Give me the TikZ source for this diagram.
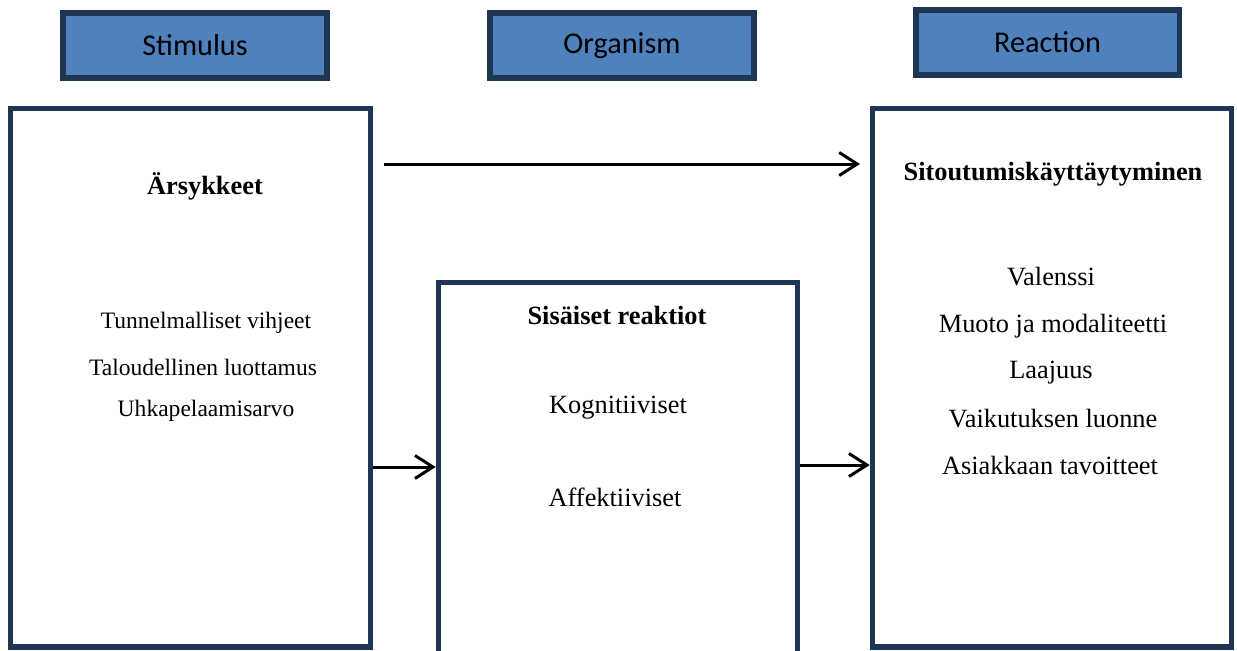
\documentclass[tikz,border=0pt]{standalone}
\usepackage{fontspec}
\setmainfont{Liberation Serif}
\newfontfamily\headfont{Carlito}
\usepackage{tikz}
\usetikzlibrary{arrows.meta,positioning}
\usepackage{xcolor}
\definecolor{headfill}{RGB}{79,129,189}
\definecolor{navy}{RGB}{31,53,84}

\begin{document}
\begin{tikzpicture}[x=0.02cm, y=-0.02cm,
    headbox/.style={draw=navy, line width=3.4pt, fill=headfill, inner sep=0pt,
        minimum width=5.28cm, minimum height=1.3cm,
        font=\headfont\fontsize{17.2}{20}\selectfont},
    bigbox/.style={draw=navy, line width=2.9pt, inner sep=0pt, minimum width=7.19cm},
    title/.style={font=\bfseries\fontsize{15}{18}\selectfont},
    smallitem/.style={font=\fontsize{13.4}{16}\selectfont},
    item/.style={font=\fontsize{15}{18}\selectfont},
    arr/.style={line width=1.7pt, -{Straight Barb[length=3.6mm, width=4.6mm]}}]
    \useasboundingbox (0,0) rectangle (1237,650);

    % Stimulus
    \node[headbox] (stim) at (195,45.5) {Stimulus};
    \node[bigbox, minimum height=10.77cm] (lbox) at (190.5,377.75) {};
    \node[title] (arsyk) at (205,186) {Ärsykkeet};
    \node[smallitem] (tunn) at (206,323) {Tunnelmalliset vihjeet};
    \node[smallitem] (talo) at (203,367) {Taloudellinen luottamus};
    \node[smallitem] (uhka) at (206,411) {Uhkapelaamisarvo};

    % Organism
    \node[headbox] (org) at (622,45.5) {Organism};
    \node[bigbox, minimum height=7.8cm] (mbox) at (618,477) {};
    \node[title] (sisa) at (617,315) {Sisäiset reaktiot};
    \node[item] (kogn) at (618,408) {Kognitiiviset};
    \node[item] (affe) at (615,497) {Affektiiviset};

    % Reaction
    \node[headbox] (reac) at (1047.5,42.5) {Reaction};
    \node[bigbox, minimum height=10.77cm] (rbox) at (1052,377.75) {};
    \node[title] (sito) at (1053,174) {Sitoutumiskäyttäytyminen};
    \node[item] (vale) at (1051,277) {Valenssi};
    \node[item] (muot) at (1053,326) {Muoto ja modaliteetti};
    \node[item] (laaj) at (1051,373) {Laajuus};
    \node[item] (vaik) at (1053,419) {Vaikutuksen luonne};
    \node[item] (asia) at (1050,465) {Asiakkaan tavoitteet};

    % arrows
    \coordinate (topstart) at (384,164);
    \coordinate (topend) at (860,164);
    \draw[arr] (topstart) -- (topend);
    \draw[arr] (lbox.east |- 0,467) -- (mbox.west |- 0,467);
    \draw[arr] (mbox.east |- 0,465) -- (rbox.west |- 0,465);
\end{tikzpicture}
\end{document}
